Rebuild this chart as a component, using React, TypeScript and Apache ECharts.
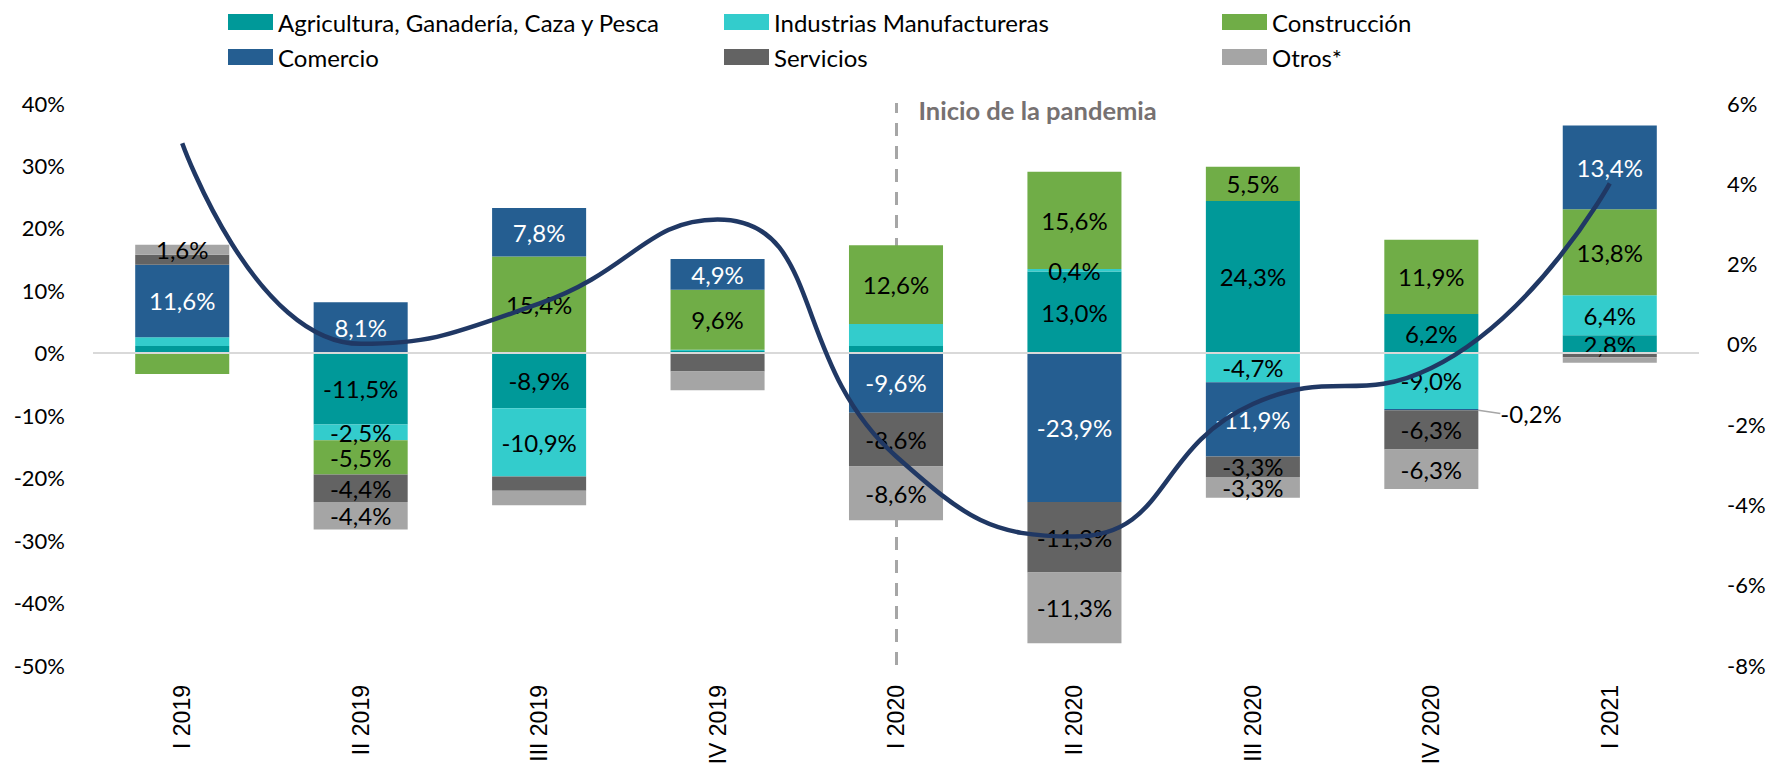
import React, { useEffect, useRef } from "react";
import * as echarts from "echarts";

const categories = ["I 2019", "II 2019", "III 2019", "IV 2019", "I 2020", "II 2020", "III 2020", "IV 2020", "I 2021"];

const agricultura = [1.1, -11.5, -8.9, 0.3, 1.1, 13.0, 24.3, 6.2, 2.8];
const industrias = [1.4, -2.5, -10.9, 0.2, 3.5, 0.4, -4.7, -9.0, 6.4];
const construccion = [-3.4, -5.5, 15.4, 9.6, 12.6, 15.6, 5.5, 11.9, 13.8];
const comercio = [11.6, 8.1, 7.8, 4.9, -9.6, -23.9, -11.9, -0.2, 13.4];
const servicios = [1.6, -4.4, -2.3, -3.0, -8.6, -11.3, -3.3, -6.3, -0.7];
const otros = [1.6, -4.4, -2.3, -3.0, -8.6, -11.3, -3.3, -6.3, -0.9];

const totalLine = [5.0, 0.0, 1.0, 3.1, -2.8, -4.8, -1.5, -0.6, 4.0];

// which segments carry a data label
const agriLabels = [0, 1, 1, 0, 0, 1, 1, 1, 1];
const indLabels = [0, 1, 1, 0, 0, 1, 1, 1, 1];
const constrLabels = [0, 1, 1, 1, 1, 1, 1, 1, 1];
const comLabels = [1, 1, 1, 1, 1, 1, 1, 1, 1];
const servLabels = [0, 1, 0, 0, 1, 1, 1, 1, 0];
const otrosLabels = [1, 1, 0, 0, 1, 1, 1, 1, 0];
const outsideLabelIndex = 7; // Comercio IV 2020 label drawn outside

const leftTicks = { min: -50, max: 40, interval: 10 };
const rightTicks = { min: -8, max: 6, interval: 2 };

const names = [
  "Agricultura, Ganadería, Caza y Pesca",
  "Industrias Manufactureras",
  "Construcción",
  "Comercio",
  "Servicios",
  "Otros*",
];
const colors = ["#009999", "#33CCCC", "#70AD47", "#255E91", "#636363", "#A5A5A5"];
const labelColors = ["#000", "#000", "#000", "#fff", "#000", "#000"];
const pandemicLabel = "Inicio de la pandemia";
const pandemicCategory = "I 2020";

const FONT = "Lato, 'Open Sans', sans-serif";

const fmt = (v: number) => v.toFixed(1).replace(".", ",") + "%";

export default function App() {
  const ref = useRef<HTMLDivElement>(null);
  useEffect(() => {
    if (!ref.current) return;
    const chart = echarts.init(ref.current, undefined, { renderer: "svg" });
    const values = [agricultura, industrias, construccion, comercio, servicios, otros];
    const flags = [agriLabels, indLabels, constrLabels, comLabels, servLabels, otrosLabels];

    const barSeries: any[] = values.map((arr, si) => {
      const s: any = {
        name: names[si],
        type: "bar",
        stack: "total",
        barWidth: "52.7%",
        itemStyle: { color: colors[si] },
        label: {
          show: false,
          position: "inside",
          color: labelColors[si],
          fontFamily: FONT,
          fontSize: 24,
          lineHeight: 19,
          formatter: (p: any) => fmt(p.value),
        },
        data: arr.map((v, i) => {
          const item: any = { value: v, label: { show: flags[si][i] === 1 } };
          if (si === 3 && i === outsideLabelIndex) {
            item.label = { show: true, position: "right", distance: 6, color: "#000" };
            item.labelLine = { show: true, lineStyle: { color: "#A6A6A6", width: 1.5 } };
          }
          return item;
        }),
      };
      if (si === 3) {
        s.labelLayout = (p: any) => (p.dataIndex === outsideLabelIndex ? { dx: 16, dy: 4 } : {});
      }
      if (si === 0) {
        s.markLine = {
          silent: true,
          symbol: ["none", "none"],
          label: { show: false },
          lineStyle: { color: "#D9D9D9", width: 2, type: "solid" },
          data: [{ yAxis: 0 }],
        };
      }
      if (si === 1) {
        s.markLine = {
          silent: true,
          z: 1,
          symbol: ["none", "none"],
          label: { show: false },
          lineStyle: { color: "#A6A6A6", width: 3, type: [13, 10] },
          data: [{ xAxis: pandemicCategory }],
        };
        s.markPoint = {
          silent: true,
          symbol: "rect",
          symbolSize: 1,
          itemStyle: { color: "rgba(0,0,0,0)" },
          label: {
            show: true,
            position: "right",
            distance: 22,
            formatter: pandemicLabel,
            color: "#767171",
            fontWeight: "bold",
            fontFamily: FONT,
            fontSize: 25.5,
          },
          data: [{ coord: [pandemicCategory, 38.8] }],
        };
      }
      return s;
    });

    const legendBase = {
      orient: "vertical",
      top: 4,
      itemWidth: 45,
      itemHeight: 16,
      itemGap: 9,
      icon: "rect",
      textStyle: { fontFamily: FONT, fontSize: 24, color: "#000", lineHeight: 26 },
    };

    chart.setOption({
      animation: false,
      backgroundColor: "#fff",
      legend: [
        { ...legendBase, left: 223, data: [names[0], names[3]] },
        { ...legendBase, left: 719, data: [names[1], names[4]] },
        { ...legendBase, left: 1217, data: [names[2], names[5]] },
      ],
      grid: { left: 93, right: 76, top: 103, bottom: 106 },
      xAxis: {
        type: "category",
        data: categories,
        axisLine: { show: false },
        axisTick: { show: false },
        axisLabel: {
          rotate: 90,
          margin: 20,
          fontFamily: "'Liberation Sans', Arial, sans-serif",
          fontSize: 23,
          color: "#000",
        },
      },
      yAxis: [
        {
          type: "value",
          ...leftTicks,
          axisLine: { show: false },
          axisTick: { show: false },
          splitLine: { show: false },
          axisLabel: { formatter: "{value}%", margin: 28, fontFamily: FONT, fontSize: 22, color: "#000" },
        },
        {
          type: "value",
          ...rightTicks,
          position: "right",
          axisLine: { show: false },
          axisTick: { show: false },
          splitLine: { show: false },
          axisLabel: { formatter: "{value}%", margin: 28, fontFamily: FONT, fontSize: 22, color: "#000" },
        },
      ],
      series: [
        ...barSeries,
        {
          name: "Total",
          type: "line",
          yAxisIndex: 1,
          smooth: 0.5,
          symbol: "none",
          z: 6,
          lineStyle: { color: "#203864", width: 4.5 },
          data: totalLine,
        },
      ],
    });
    return () => chart.dispose();
  }, []);

  return <div ref={ref} style={{ position: "fixed", left: 0, top: 0, width: 1775, height: 771 }} />;
}
